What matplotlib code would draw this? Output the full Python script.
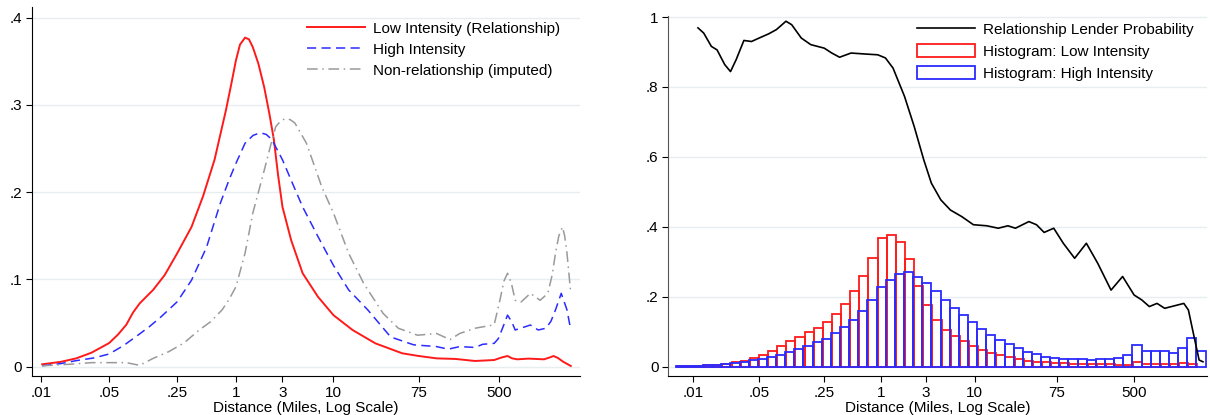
import numpy as np
import matplotlib
matplotlib.use('Agg')
import matplotlib.pyplot as plt
from matplotlib.patches import Patch
from matplotlib.lines import Line2D

plt.rcParams['font.family'] = ['Liberation Sans', 'DejaVu Sans']

# ---- left panel: kernel densities (distance in miles, density) ----
low_x = [0.0103, 0.016, 0.023, 0.033, 0.05, 0.062, 0.075, 0.088, 0.103, 0.1416, 0.186, 0.25, 0.35, 0.459,
         0.603, 0.79, 0.9, 1.0, 1.1, 1.24, 1.36, 1.49, 1.7, 1.95, 2.2, 2.45, 2.7, 3.0, 3.68, 4.83,
         6.94, 10, 15.7, 26.9, 50.7, 75, 114, 180, 283, 445, 530, 610, 680, 766, 1000, 1442, 1650,
         1808, 2000, 2266, 2716]
low_y = [0.0027, 0.0055, 0.0095, 0.016, 0.027, 0.037, 0.048, 0.062, 0.0725, 0.088, 0.105, 0.130, 0.160, 0.195,
         0.237, 0.294, 0.325, 0.351, 0.369, 0.377, 0.375, 0.366, 0.347, 0.32, 0.29, 0.26, 0.22, 0.183, 0.145, 0.107,
         0.080, 0.059, 0.042, 0.0267, 0.0153, 0.0122, 0.0095, 0.0088, 0.0065, 0.0076, 0.0105, 0.0122, 0.0095, 0.0084,
         0.0092, 0.0084, 0.0105, 0.0122, 0.010, 0.0057, 0.0008]

high_x = [0.0103, 0.016, 0.023, 0.035, 0.05, 0.07, 0.0986, 0.13, 0.17, 0.25, 0.35, 0.50, 0.69, 0.85,
          1.0, 1.24, 1.5, 1.78, 2.05, 2.34, 3.0, 3.8, 4.83, 6.94, 10, 14.3, 22.5, 38.6, 66.5, 114,
          150, 197, 283, 339, 445, 490, 533, 610, 670, 731, 1047, 1258, 1510, 1700, 1893, 2168,
          2483, 2716]
high_y = [0.001, 0.0035, 0.0069, 0.010, 0.0145, 0.024, 0.036, 0.046, 0.057, 0.0744, 0.099, 0.137, 0.187, 0.214,
          0.233, 0.256, 0.265, 0.268, 0.266, 0.26, 0.237, 0.21, 0.183, 0.149, 0.116, 0.088, 0.065, 0.034, 0.025, 0.023,
          0.020, 0.023, 0.022, 0.0256, 0.0267, 0.032, 0.042, 0.059, 0.052, 0.042, 0.0477, 0.042, 0.044, 0.052,
          0.065, 0.084, 0.065, 0.042]

nonrel_x = [0.0103, 0.0194, 0.0333, 0.0575, 0.075, 0.103, 0.1416, 0.203, 0.292, 0.42, 0.55, 0.72,
            0.85, 1.0, 1.24, 1.49, 1.95, 2.25, 2.56, 2.9, 3.21, 3.6, 4.03, 5.28, 7.59, 10, 14.3, 20.5,
            32.3, 46.3, 72.8, 114, 157, 197, 283, 445, 509, 560, 610, 670, 731, 838, 1047, 1318, 1578,
            1750, 1893, 2050, 2230, 2350, 2483, 2716]
nonrel_y = [0.001, 0.0027, 0.0046, 0.0046, 0.0046, 0.0015, 0.0095, 0.017, 0.027, 0.042, 0.0515, 0.065,
            0.077, 0.0916, 0.13, 0.176, 0.225, 0.252, 0.275, 0.282, 0.284, 0.283, 0.279, 0.256, 0.206, 0.176, 0.13,
            0.095, 0.061, 0.044, 0.036, 0.038, 0.031, 0.038, 0.044, 0.048, 0.076, 0.098, 0.107, 0.095, 0.076,
            0.074, 0.084, 0.076, 0.084, 0.105, 0.13, 0.15, 0.160, 0.15, 0.13, 0.084]

# ---- right panel: relationship lender probability ----
prob_x = [0.0112, 0.0129, 0.01556, 0.0179, 0.0216, 0.0249, 0.0286, 0.0346, 0.0417, 0.0504, 0.0637,
          0.0769, 0.0973, 0.112, 0.1416, 0.179, 0.249, 0.30, 0.363, 0.481, 0.70, 0.927, 1.12, 1.35,
          1.79, 2.27, 2.87, 3.46, 4.37, 5.53, 7.33, 9.72, 13.5, 17.9, 22.7, 27.3, 38, 45.8, 55.3,
          70, 88.5, 117, 156, 206, 286, 380, 504, 608, 733, 885, 1069, 1352, 1710, 1914, 2163, 2490, 2735]
prob_y = [0.969, 0.954, 0.916, 0.906, 0.864, 0.844, 0.878, 0.933, 0.930, 0.94, 0.952,
          0.964, 0.988, 0.978, 0.94, 0.921, 0.911, 0.897, 0.885, 0.897, 0.894, 0.892, 0.883, 0.854,
          0.773, 0.687, 0.592, 0.525, 0.477, 0.448, 0.429, 0.406, 0.403, 0.396, 0.403, 0.396, 0.415, 0.406, 0.384,
          0.396, 0.353, 0.310, 0.353, 0.296, 0.219, 0.258, 0.205, 0.191, 0.172, 0.181, 0.167, 0.174, 0.181, 0.162, 0.095, 0.019, 0.014]

# histograms on log10(distance): first edge, bin width, bar heights
low_hist_start, low_hist_width = -2.177, 0.0974
low_hist = [0.001, 0.002, 0.003, 0.004, 0.006, 0.009, 0.012, 0.016, 0.024, 0.033,
            0.045, 0.060, 0.074, 0.086, 0.100, 0.112, 0.129, 0.151, 0.179, 0.217,
            0.260, 0.310, 0.367, 0.377, 0.356, 0.308, 0.231, 0.175, 0.134, 0.105,
            0.088, 0.073, 0.060, 0.048, 0.040, 0.033, 0.027, 0.021, 0.017, 0.014,
            0.012, 0.011, 0.010, 0.009, 0.009, 0.008, 0.008, 0.007, 0.006, 0.006,
            0.013, 0.008, 0.008, 0.008, 0.008, 0.011, 0.009]
high_hist_start, high_hist_width = -2.19, 0.0975
high_hist = [0.001, 0.002, 0.003, 0.004, 0.006, 0.008, 0.010, 0.013, 0.018, 0.022,
             0.028, 0.034, 0.043, 0.052, 0.060, 0.070, 0.080, 0.095, 0.114, 0.133,
             0.160, 0.190, 0.227, 0.249, 0.265, 0.270, 0.257, 0.238, 0.216, 0.190,
             0.169, 0.147, 0.128, 0.108, 0.090, 0.077, 0.065, 0.054, 0.042, 0.035,
             0.028, 0.025, 0.023, 0.022, 0.021, 0.020, 0.021, 0.022, 0.026, 0.034,
             0.063, 0.044, 0.045, 0.046, 0.040, 0.053, 0.083, 0.045]

xticks = [0.01, 0.05, 0.25, 1, 3, 10, 75, 500]
xticklabels = ['.01', '.05', '.25', '1', '3', '10', '75', '500']

RED = '#ff1a1a'
BLUE = '#2b2bff'
GRAY = '#9a9a9a'
GRID = '#e6eef0'
FS = 11


def style_axis(ax, yticks, ylabels, spine_color):
    ax.set_xscale('log')
    ax.set_xticks(xticks)
    ax.set_xticklabels(xticklabels)
    ax.minorticks_off()
    ax.set_yticks(yticks)
    ax.set_yticklabels(ylabels)
    ax.tick_params(axis='both', direction='out', length=4, width=0.8, labelsize=FS, pad=3)
    for s in ['top', 'right']:
        ax.spines[s].set_visible(False)
    ax.spines['left'].set_color(spine_color)
    ax.spines['bottom'].set_color('black')
    ax.grid(axis='y', color=GRID, linewidth=1.0)
    ax.set_axisbelow(True)
    ax.set_xlabel('Distance (Miles, Log Scale)', fontsize=FS, labelpad=1)


fig = plt.figure(figsize=(12.1, 4.15), dpi=100)
ax1 = fig.add_axes([0.0262, 0.094, 0.4531, 0.889])
ax2 = fig.add_axes([0.5523, 0.094, 0.4452, 0.8675])

# left panel
ax1.plot(low_x, low_y, color=RED, lw=1.4, label='Low Intensity (Relationship)')
ax1.plot(high_x, high_y, color=BLUE, lw=1.1, dashes=(6, 3.5), label='High Intensity')
ax1.plot(nonrel_x, nonrel_y, color=GRAY, lw=1.1, dashes=(7, 3, 1, 3), label='Non-relationship (imputed)')
ax1.set_xlim(0.00804, 3373)
ax1.set_ylim(-0.0107, 0.412)
style_axis(ax1, [0, 0.1, 0.2, 0.3, 0.4], ['0', '.1', '.2', '.3', '.4'], 'black')
ax1.legend(loc='upper left', bbox_to_anchor=(0.5015, 0.96), frameon=False, fontsize=FS,
           handlelength=3.8, handletextpad=0.55, borderpad=0, borderaxespad=0, labelspacing=0.45)

# right panel
e = low_hist_start + low_hist_width * np.arange(len(low_hist) + 1)
le, re = 10 ** e[:-1], 10 ** e[1:]
ax2.bar(le, low_hist, width=re - le, align='edge', fill=False, edgecolor=RED, linewidth=1.3)
e = high_hist_start + high_hist_width * np.arange(len(high_hist) + 1)
le, re = 10 ** e[:-1], 10 ** e[1:]
ax2.bar(le, high_hist, width=re - le, align='edge', fill=False, edgecolor=BLUE, linewidth=1.3)
ax2.plot(prob_x, prob_y, color='black', lw=1.2)
ax2.set_xlim(0.0054, 3020)
ax2.set_ylim(-0.0266, 1.003)
style_axis(ax2, [0, 0.2, 0.4, 0.6, 0.8, 1.0], ['0', '.2', '.4', '.6', '.8', '1'], '#555555')

handles = [Line2D([], [], color='black', lw=1.2),
           Patch(facecolor='white', edgecolor=RED, linewidth=1.3),
           Patch(facecolor='white', edgecolor=BLUE, linewidth=1.3)]
labels = ['Relationship Lender Probability', 'Histogram: Low Intensity', 'Histogram: High Intensity']
ax2.legend(handles, labels, loc='upper left', bbox_to_anchor=(0.4617, 0.984), frameon=False, fontsize=FS,
           handlelength=3.8, handleheight=1.0, handletextpad=0.55, borderpad=0, borderaxespad=0,
           labelspacing=0.45)

fig.savefig('out.png', dpi=100)
